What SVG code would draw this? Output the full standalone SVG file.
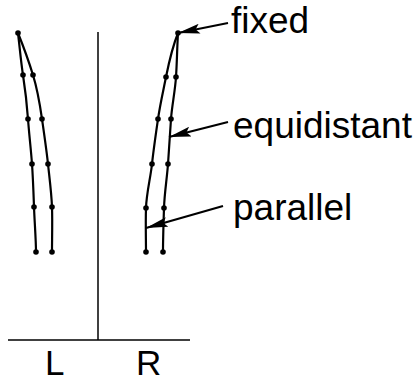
<svg xmlns="http://www.w3.org/2000/svg" width="417" height="381" viewBox="0 0 417 381">
<style>
.ln{fill:none;stroke:#000;stroke-width:2.2;stroke-linecap:round;stroke-linejoin:round}
.ax{fill:none;stroke:#000;stroke-width:1.5}
.dot{fill:#000}
.lbl{font-family:"Liberation Sans",Arial,sans-serif;font-size:37px;fill:#000}
.ax-lbl{font-family:"Liberation Sans",Arial,sans-serif;font-size:35px;fill:#000}
.arr{fill:none;stroke:#000;stroke-width:2.2}
</style>
<defs>
<marker id="ah" viewBox="0 0 22 10" refX="22" refY="5" markerWidth="22" markerHeight="10" markerUnits="userSpaceOnUse" orient="auto">
<path d="M0,0 L22,5 L0,10 L4,5 Z" fill="#000"/>
</marker>
</defs>
<rect width="417" height="381" fill="#fff"/>
<g id="axes">
<line class="ax" x1="8" y1="340" x2="190" y2="340"/>
<line class="ax" x1="98" y1="32" x2="98" y2="340"/>
<text class="ax-lbl" x="45" y="375">L</text>
<text class="ax-lbl" x="136" y="375">R</text>
</g>
<g id="left-curves">
<path class="ln" d="M18,33 C20,50 21,62 23,75 S27,105 28,119 S31,150 32,164 S33.5,193 34,207 S36,240 36,252"/>
<path class="ln" d="M18,33 C24,48 29,62 33,75 S40,105 42,119 S46.5,150 48,164 S51.5,193 52,207 S52,240 52,252"/>
<g class="dot">
<circle cx="18" cy="33" r="2.8"/>
<circle cx="23" cy="75" r="2.8"/><circle cx="28" cy="119" r="2.8"/><circle cx="32" cy="164" r="2.8"/><circle cx="34" cy="207" r="2.8"/><circle cx="36" cy="252" r="2.8"/>
<circle cx="33" cy="75" r="2.8"/><circle cx="42" cy="119" r="2.8"/><circle cx="48" cy="164" r="2.8"/><circle cx="52" cy="207" r="2.8"/><circle cx="52" cy="252" r="2.8"/>
</g>
</g>
<g id="right-curves">
<path class="ln" d="M178,33 C172,48 169,62 166,77 S160,105 158,119 S153.5,150 152,164 S146.5,193 146,208 S146,240 146,252"/>
<path class="ln" d="M178,33 C177,50 177,62 176,77 S172,105 171,119 S169,150 168,164 S164.5,193 164,208 S163,240 163,252"/>
<g class="dot">
<circle cx="178" cy="33" r="2.8"/>
<circle cx="166" cy="77" r="2.8"/><circle cx="158" cy="119" r="2.8"/><circle cx="152" cy="164" r="2.8"/><circle cx="146" cy="208" r="2.8"/><circle cx="146" cy="252" r="2.8"/>
<circle cx="176" cy="77" r="2.8"/><circle cx="171" cy="119" r="2.8"/><circle cx="168" cy="164" r="2.8"/><circle cx="164" cy="208" r="2.8"/><circle cx="163" cy="252" r="2.8"/>
</g>
</g>
<g id="connectors">
<line class="arr" x1="228" y1="23" x2="178" y2="33" marker-end="url(#ah)"/>
<line class="arr" x1="228" y1="122" x2="169" y2="137" marker-end="url(#ah)"/>
<line class="arr" x1="223" y1="206" x2="146" y2="228" marker-end="url(#ah)"/>
</g>
<g id="label-fixed"><text class="lbl" x="231" y="33">fixed</text></g>
<g id="label-equidistant"><text class="lbl" x="233" y="138">equidistant</text></g>
<g id="label-parallel"><text class="lbl" x="233" y="220">parallel</text></g>
</svg>
